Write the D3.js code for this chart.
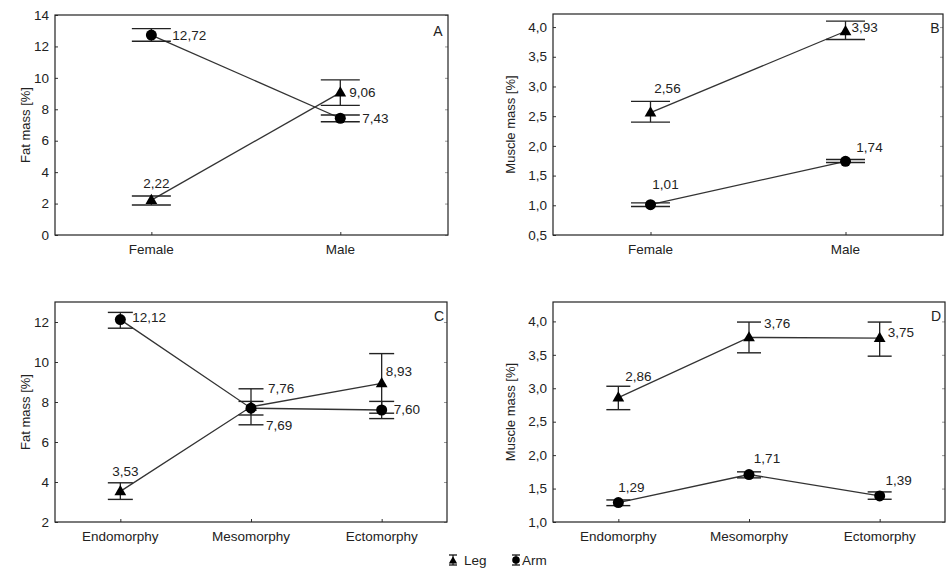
<!DOCTYPE html>
<html><head><meta charset="utf-8">
<script src="https://cdn.jsdelivr.net/npm/d3@7"></script>
<style>
body{margin:0;background:#fff;}
svg{display:block;font-family:"Liberation Sans",Arial,sans-serif;}
</style></head>
<body><svg id="c" width="948" height="569"></svg>
<script>
// ---------- DATA ----------
const sexCategories = ["Female", "Male"];
const somaCategories = ["Endomorphy", "Mesomorphy", "Ectomorphy"];

// Panel A: Fat mass by sex
const fatSexLeg = [2.22, 9.06];
const fatSexLegLo = [1.91, 8.25];
const fatSexLegHi = [2.48, 9.87];
const fatSexArm = [12.72, 7.43];
const fatSexArmLo = [12.33, 7.21];
const fatSexArmHi = [13.13, 7.64];

// Panel B: Muscle mass by sex
const musSexLeg = [2.56, 3.93];
const musSexLegLo = [2.40, 3.79];
const musSexLegHi = [2.75, 4.10];
const musSexArm = [1.01, 1.74];
const musSexArmLo = [0.98, 1.72];
const musSexArmHi = [1.04, 1.77];

// Panel C: Fat mass by somatotype
const fatSomaLeg = [3.53, 7.76, 8.93];
const fatSomaLegLo = [3.13, 6.86, 7.44];
const fatSomaLegHi = [3.96, 8.66, 10.42];
const fatSomaArm = [12.12, 7.69, 7.60];
const fatSomaArmLo = [11.69, 7.35, 7.17];
const fatSomaArmHi = [12.48, 8.03, 8.03];

// Panel D: Muscle mass by somatotype
const musSomaLeg = [2.86, 3.76, 3.75];
const musSomaLegLo = [2.68, 3.53, 3.48];
const musSomaLegHi = [3.03, 3.99, 3.99];
const musSomaArm = [1.29, 1.71, 1.39];
const musSomaArmLo = [1.245, 1.66, 1.34];
const musSomaArmHi = [1.33, 1.75, 1.45];

const ticksA = [0, 2, 4, 6, 8, 10, 12, 14];
const ticksB = [0.5, 1.0, 1.5, 2.0, 2.5, 3.0, 3.5, 4.0];
const ticksC = [2, 4, 6, 8, 10, 12];
const ticksD = [1.0, 1.5, 2.0, 2.5, 3.0, 3.5, 4.0];

const seriesNames = ["Leg", "Arm"];

// ---------- LAYOUT (styling only) ----------
const panels = [
  {letter:"A", cats:sexCategories, yTitle:"Fat mass [%]", ticks:ticksA, dec:0,
   box:{l:55,r:448,t:15,b:235}, yDom:[0,14], xDom:[0.49,2.57], cap:19.5,
   leg:[fatSexLeg,fatSexLegLo,fatSexLegHi], arm:[fatSexArm,fatSexArmLo,fatSexArmHi],
   legLab:[[5,-17,"middle"],[9,0,"start"]], armLab:[[21,0,"start"],[22,0,"start"]],
   titleX:25, letterPos:[438,31]},
  {letter:"B", cats:sexCategories, yTitle:"Muscle mass [%]", ticks:ticksB, dec:1,
   box:{l:553,r:943,t:14,b:235}, yDom:[0.5,4.22], xDom:[0.5,2.5], cap:19.5,
   leg:[musSexLeg,musSexLegLo,musSexLegHi], arm:[musSexArm,musSexArmLo,musSexArmHi],
   legLab:[[17,-24,"middle"],[6,-4,"start"]], armLab:[[15,-20,"middle"],[24,-14,"middle"]],
   titleX:510, letterPos:[935,28]},
  {letter:"C", cats:somaCategories, yTitle:"Fat mass [%]", ticks:ticksC, dec:0,
   box:{l:55,r:447,t:302,b:522}, yDom:[2,13], xDom:[0.5,3.5], cap:12.5,
   leg:[fatSomaLeg,fatSomaLegLo,fatSomaLegHi], arm:[fatSomaArm,fatSomaArmLo,fatSomaArmHi],
   legLab:[[5,-20,"middle"],[17,-19,"start"],[4,-12,"start"]], armLab:[[12,-2,"start"],[15,17,"start"],[12,-1,"start"]],
   titleX:25, letterPos:[439,316]},
  {letter:"D", cats:somaCategories, yTitle:"Muscle mass [%]", ticks:ticksD, dec:1,
   box:{l:553,r:945,t:302,b:522}, yDom:[1.0,4.29], xDom:[0.5,3.5], cap:12,
   leg:[musSomaLeg,musSomaLegLo,musSomaLegHi], arm:[musSomaArm,musSomaArmLo,musSomaArmHi],
   legLab:[[20,-21,"middle"],[15,-14,"start"],[8,-6,"start"]], armLab:[[13,-15,"middle"],[18,-16,"middle"],[19,-16,"middle"]],
   titleX:510, letterPos:[936,316]}
];

const svg = d3.select("#c");
const comma = (v, dec) => d3.format("." + dec + "f")(v).replace(".", ",");
const triPath = d3.symbol().type(d3.symbolTriangle).size(60)();

panels.forEach(p => {
  const g = svg.append("g");
  const x = d3.scaleLinear().domain(p.xDom).range([p.box.l, p.box.r]);
  const y = d3.scaleLinear().domain(p.yDom).range([p.box.b, p.box.t]);
  const idx = p.cats.map((c, i) => i + 1);

  // inner ticks
  g.append("g").attr("transform", `translate(${p.box.l},0)`)
    .call(d3.axisLeft(y).tickValues(p.ticks).tickSizeInner(-3).tickSizeOuter(0).tickFormat(""))
    .call(a => a.select(".domain").remove())
    .selectAll("line").attr("stroke", "#333");
  g.append("g").attr("transform", `translate(${p.box.r},0)`)
    .call(d3.axisRight(y).tickValues(p.ticks).tickSizeInner(-3).tickSizeOuter(0).tickFormat(""))
    .call(a => a.select(".domain").remove())
    .selectAll("line").attr("stroke", "#999");
  g.append("g").attr("transform", `translate(0,${p.box.b})`)
    .call(d3.axisBottom(x).tickValues(idx).tickSizeInner(-3).tickSizeOuter(0).tickFormat(""))
    .call(a => a.select(".domain").remove())
    .selectAll("line").attr("stroke", "#333");

  // tick labels
  g.selectAll(".yl").data(p.ticks).join("text")
    .attr("x", p.box.l - 6).attr("y", d => y(d)).attr("dy", "0.35em")
    .attr("text-anchor", "end").attr("font-size", 13.5).attr("fill", "#222")
    .text(d => comma(d, p.dec));
  g.selectAll(".xl").data(p.cats).join("text")
    .attr("x", (d, i) => x(i + 1)).attr("y", p.box.b + 19)
    .attr("text-anchor", "middle").attr("font-size", 13.5).attr("fill", "#222")
    .text(d => d);

  // box
  g.append("rect").attr("x", p.box.l).attr("y", p.box.t)
    .attr("width", p.box.r - p.box.l).attr("height", p.box.b - p.box.t)
    .attr("fill", "none").attr("stroke", "#222").attr("stroke-width", 1.2);

  // y title
  g.append("text").attr("transform", `translate(${p.titleX},${(p.box.t + p.box.b) / 2}) rotate(-90)`)
    .attr("text-anchor", "middle").attr("dy", "0.35em").attr("font-size", 13).attr("fill", "#222")
    .text(p.yTitle);

  // letter
  g.append("text").attr("x", p.letterPos[0]).attr("y", p.letterPos[1]).attr("dy", "0.35em")
    .attr("text-anchor", "middle").attr("font-size", 14).attr("fill", "#222").text(p.letter);

  const line = d3.line().x((d, i) => x(i + 1)).y(d => y(d));

  [["leg", p.leg, p.legLab], ["arm", p.arm, p.armLab]].forEach(([name, s, labs]) => {
    const [vals, lo, hi] = s;
    g.append("path").attr("d", line(vals)).attr("fill", "none")
      .attr("stroke", "#333").attr("stroke-width", 1.3);
    // error bars
    vals.forEach((v, i) => {
      const cx = x(i + 1);
      g.append("line").attr("x1", cx).attr("x2", cx).attr("y1", y(lo[i])).attr("y2", y(hi[i]))
        .attr("stroke", "#222").attr("stroke-width", 1.3);
      [lo[i], hi[i]].forEach(e => {
        g.append("line").attr("x1", cx - p.cap).attr("x2", cx + p.cap).attr("y1", y(e)).attr("y2", y(e))
          .attr("stroke", "#222").attr("stroke-width", 1.4);
      });
    });
    // markers
    vals.forEach((v, i) => {
      if (name === "leg") {
        g.append("path").attr("d", triPath).attr("transform", `translate(${x(i + 1)},${y(v) + 0.5})`)
          .attr("fill", "#000");
      } else {
        g.append("circle").attr("cx", x(i + 1)).attr("cy", y(v)).attr("r", 5.5).attr("fill", "#000");
      }
    });
    // value labels
    vals.forEach((v, i) => {
      const [dx, dy, anchor] = labs[i];
      g.append("text").attr("x", x(i + 1) + dx).attr("y", y(v) + dy).attr("dy", "0.35em")
        .attr("text-anchor", anchor).attr("font-size", 13.5).attr("fill", "#222")
        .text(comma(v, 2));
    });
  });
});

// legend
const lg = svg.append("g");
const legendX = [453, 516];
seriesNames.forEach((n, i) => {
  const cx = legendX[i], cy = 560;
  lg.append("line").attr("x1", cx).attr("x2", cx).attr("y1", cy - 5).attr("y2", cy + 5).attr("stroke", "#000");
  [cy - 5, cy + 5].forEach(yy => lg.append("line").attr("x1", cx - 4).attr("x2", cx + 4)
    .attr("y1", yy).attr("y2", yy).attr("stroke", "#000").attr("stroke-width", 1.2));
  if (i === 0) lg.append("path").attr("d", d3.symbol().type(d3.symbolTriangle).size(30)())
    .attr("transform", `translate(${cx},${cy + 1})`).attr("fill", "#000");
  else lg.append("circle").attr("cx", cx).attr("cy", cy).attr("r", 3.8).attr("fill", "#000");
  lg.append("text").attr("x", cx + (i === 0 ? 11 : 6)).attr("y", cy).attr("dy", "0.35em")
    .attr("font-size", 13.5).attr("fill", "#222").text(n);
});
</script></body></html>
